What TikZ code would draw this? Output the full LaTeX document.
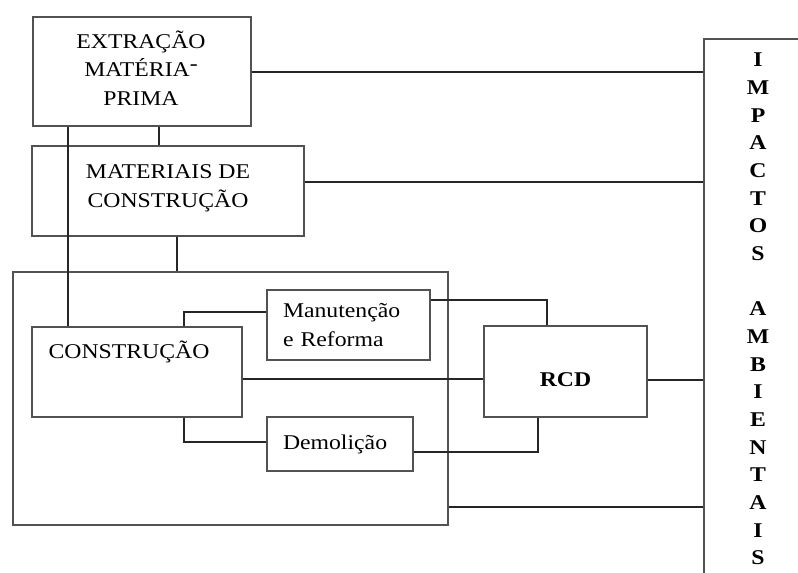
\documentclass[tikz,border=0pt]{standalone}
\usepackage{fontspec}
\setmainfont{Liberation Serif}[FakeStretch=1.13]
\begin{document}
\begin{tikzpicture}[x=1pt,y=-1pt,
  box/.style={draw=black!68,line width=1.4pt,rectangle,inner sep=0pt},
  wire/.style={draw=black!85,line width=1.1pt},
  every node/.style={font=\fontsize{21}{28.5}\selectfont}]
\useasboundingbox (0,0) rectangle (798,573);
\clip (0,0) rectangle (798,573);
\fill[white] (0,0) rectangle (798,573);

\node[box,minimum width=218pt,minimum height=109pt,
  label={[align=center,xshift=-1pt,yshift=3.5pt]center:EXTRAÇÃO\\MATÉRIA\raisebox{.3em}{-}\\PRIMA}] (ext) at (142,71.5) {};
\node[box,minimum width=272pt,minimum height=90pt,
  label={[align=center,yshift=2.5pt]center:MATERIAIS DE\\CONSTRUÇÃO}] (mat) at (168,191) {};
\node[box,minimum width=435pt,minimum height=253pt] (big) at (230.5,398.5) {};
\node[box,minimum width=210pt,minimum height=90pt,
  label={[xshift=-8pt,yshift=20pt]center:CONSTRUÇÃO}] (cons) at (137,372) {};
\node[box,minimum width=163pt,minimum height=70pt,text width=131pt,inner xsep=16pt,align=left]
  (man) at (348.5,325) {Manutenção\\e Reforma};
\node[box,minimum width=146pt,minimum height=54pt,text width=114pt,inner xsep=16pt,align=left]
  (dem) at (340,444) {Demolição};
\node[box,minimum width=163pt,minimum height=91pt,
  label={[yshift=-8.5pt]center:\textbf{RCD}}] (rcd) at (565.5,371.5) {};
\node[box,line width=1.8pt,minimum width=130pt,minimum height=580pt,anchor=north west] (imp) at (703,38) {};
\node[align=center,font=\bfseries\fontsize{21}{27.67}\selectfont] (impt) at (758,309)
  {I\\M\\P\\A\\C\\T\\O\\S\\~\\A\\M\\B\\I\\E\\N\\T\\A\\I\\S};

\draw[wire] (ext.east |- 0,72) -- (imp.west |- 0,72);
\draw[wire] (mat.east |- 0,182) -- (imp.west |- 0,182);
\draw[wire] (rcd.east |- 0,380) -- (imp.west |- 0,380);
\draw[wire] (big.east |- 0,507) -- (imp.west |- 0,507);
\draw[wire] (ext.south -| 159,0) -- (mat.north -| 159,0);
\draw[wire] (ext.south -| 68,0) -- (cons.north -| 68,0);
\draw[wire] (mat.south -| 177,0) -- (big.north -| 177,0);
\draw[wire] (cons.north -| 184,0) |- (man.west |- 0,312);
\draw[wire] (cons.south -| 184,0) |- (dem.west |- 0,442);
\draw[wire] (cons.east |- 0,379) -- (rcd.west |- 0,379);
\draw[wire] (man.east |- 0,300) -| (rcd.north -| 547,0);
\draw[wire] (dem.east |- 0,452) -| (rcd.south -| 538,0);
\end{tikzpicture}
\end{document}
